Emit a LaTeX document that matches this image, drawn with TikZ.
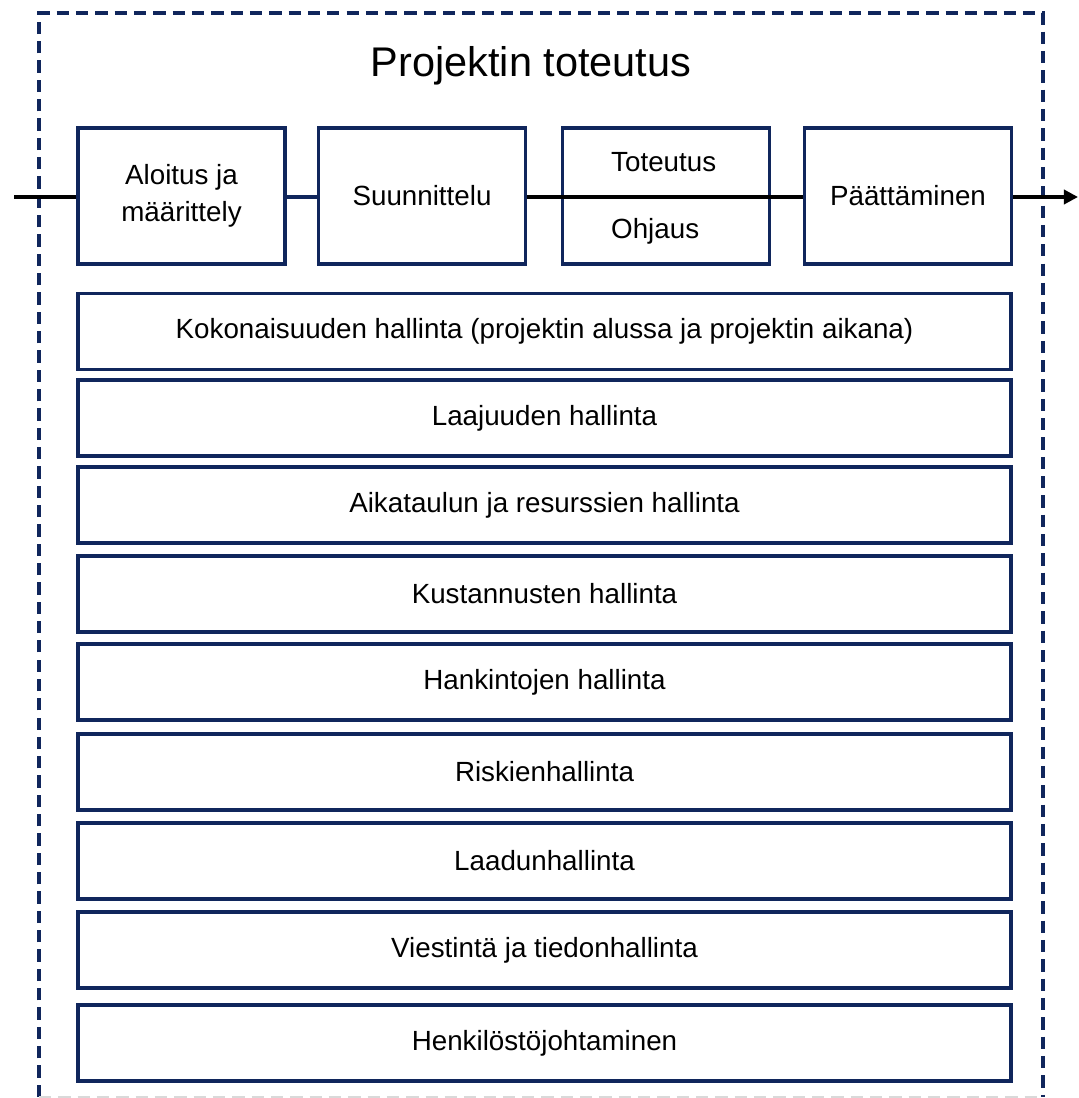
\documentclass[tikz,border=0pt]{standalone}
\usepackage{fontspec}
\setmainfont{Liberation Sans}
\usetikzlibrary{arrows.meta}
\definecolor{navy}{RGB}{16,38,92}
\begin{document}
\begin{tikzpicture}[x=0.02cm,y=-0.02cm,
  label/.style={font=\fontsize{15.8}{21}\selectfont},
  phase/.style={label,draw=navy,line width=2.2pt,fill=white,minimum width=4.14cm,minimum height=2.72cm,inner sep=0pt,align=center},
  area/.style={label,draw=navy,line width=2.2pt,fill=white,minimum width=18.66cm,minimum height=1.52cm,inner sep=0pt},
  flow/.style={line width=2pt,black}]
\useasboundingbox (0,0) rectangle (1078,1098);
% outer dashed frame
\draw[navy,line width=2pt,dash pattern=on 7pt off 4pt] (39,1097) -- (39,13) -- (1043,13) -- (1043,1097);
\draw[black!15,line width=1pt,dash pattern=on 7pt off 4pt] (39,1097) -- (1043,1097);
\node[font=\fontsize{23.6}{28}\selectfont] (title) at (531,66) {Projektin toteutus};
% phase boxes
\node[phase] (p1) at (181.5,196) {Aloitus ja\\määrittely};
\node[phase] (p2) at (422,196) {Suunnittelu};
\node[phase] (p3) at (666,196) {};
\node[phase] (p4) at (908,196) {Päättäminen};
\coordinate (start) at (14,197);
\coordinate (finish) at (1078,197);
\draw[flow] (start) -- (p1.west |- start);
\draw[line width=2pt,navy] (p1.east |- start) -- (p2.west |- start);
\draw[flow] (p2.east |- start) -- (p4.west |- start);
\draw[flow,-{Triangle[length=8pt,width=8pt]}] (p4.east |- start) -- (finish);
\node[label,anchor=west] (tot) at (605,162) {Toteutus};
\node[label,anchor=west] (ohj) at (605,231) {Ohjaus};
% management areas
\node[area] (a1) at (544.5,331.5) {Kokonaisuuden hallinta (projektin alussa ja projektin aikana)};
\node[area] (a2) at (544.5,418) {Laajuuden hallinta};
\node[area] (a3) at (544.5,505) {Aikataulun ja resurssien hallinta};
\node[area] (a4) at (544.5,594) {Kustannusten hallinta};
\node[area] (a5) at (544.5,682) {Hankintojen hallinta};
\node[area] (a6) at (544.5,772) {Riskienhallinta};
\node[area] (a7) at (544.5,861) {Laadunhallinta};
\node[area] (a8) at (544.5,950) {Viestintä ja tiedonhallinta};
\node[area] (a9) at (544.5,1043) {Henkilöstöjohtaminen};
\end{tikzpicture}
\end{document}
